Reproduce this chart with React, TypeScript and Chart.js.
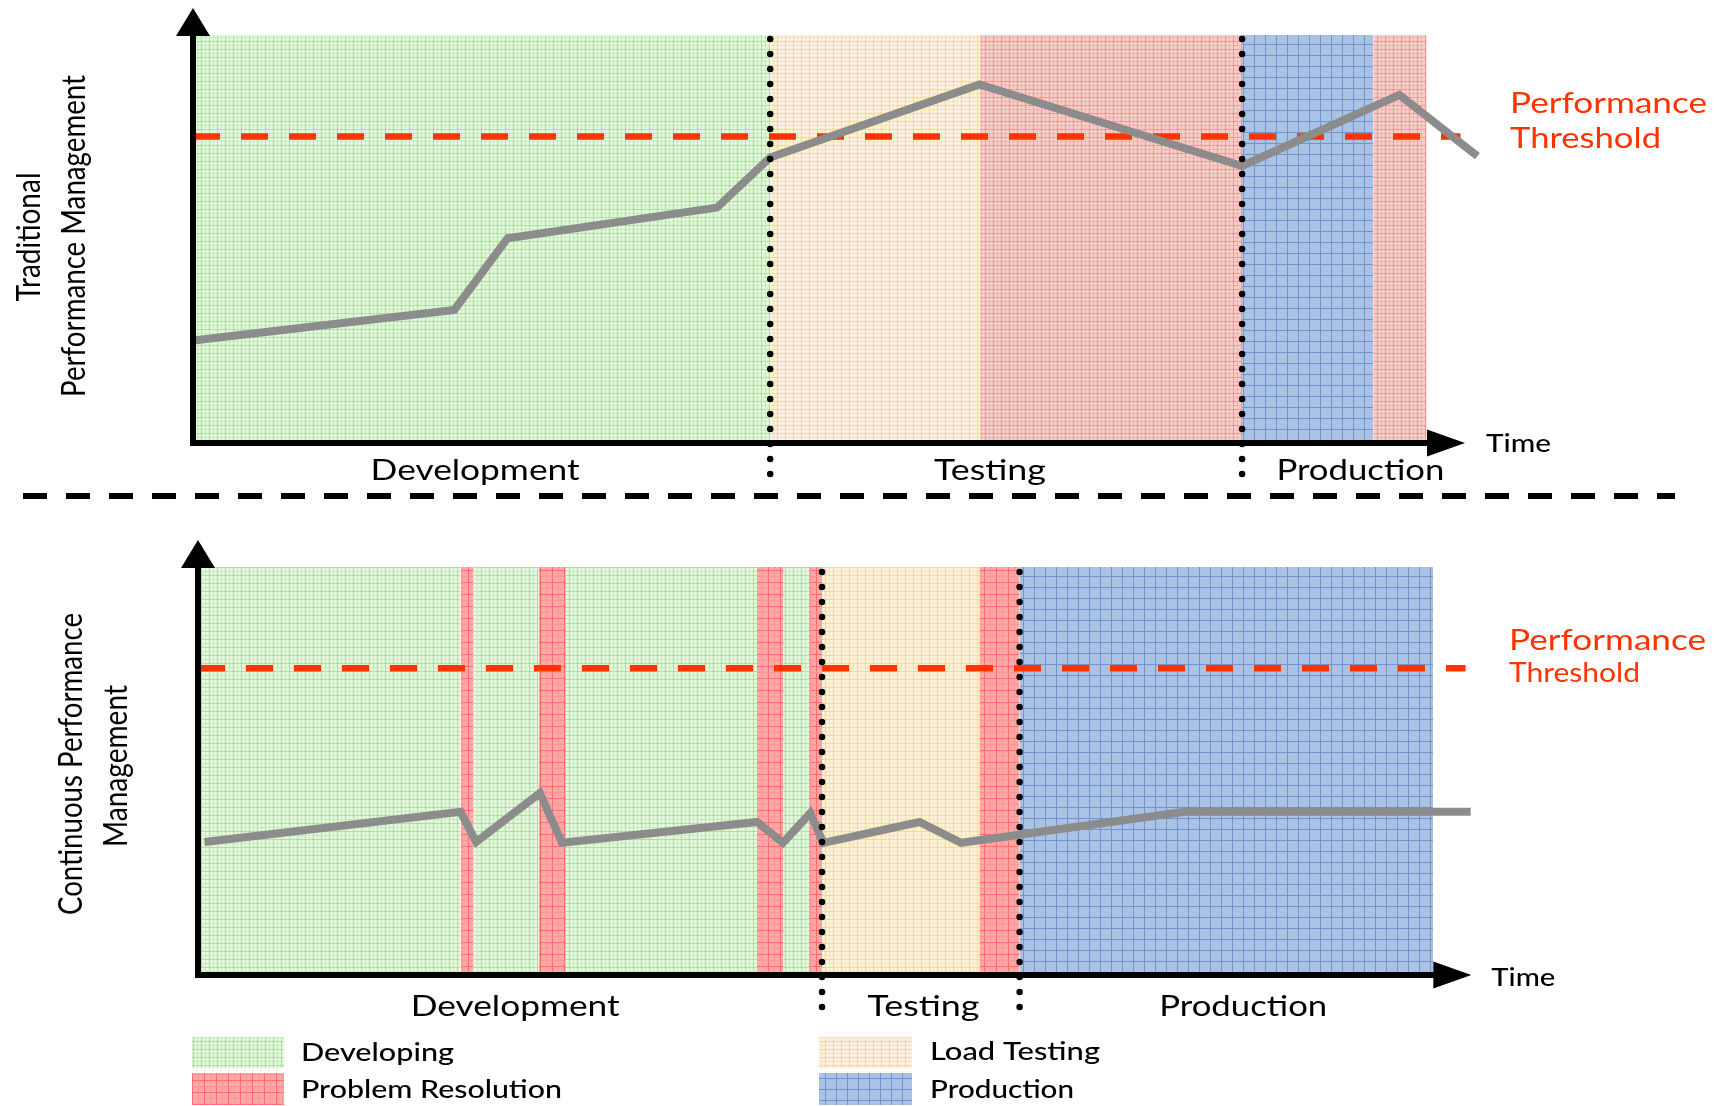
import React, { useEffect, useRef } from 'react';
import { Chart, registerables } from 'chart.js';

Chart.register(...registerables);

// ===================== DATA =====================
const legendLabels = ['Developing', 'Problem Resolution', 'Load Testing', 'Production'];

// Traditional performance management (top panel)
const topPhaseStart = [0, 44.4, 60.5, 80.7, 90.8];
const topPhaseEnd = [44.4, 60.5, 80.7, 90.8, 94.9];
const topPhaseKind = ['Developing', 'Load Testing', 'Problem Resolution', 'Production', 'Problem Resolution'];
const topPerfX = [0, 20.1, 24.2, 40.3, 44.4, 60.5, 80.7, 92.8, 98.8];
const topPerfY = [25.1, 32.6, 50.2, 57.7, 70.0, 87.9, 67.9, 85.3, 70.3];
const topThreshold = 75.1;
const topThresholdEnd = 97.5;
const topDividers = [44.4, 80.7];
const topStageLabels = ['Development', 'Testing', 'Production'];
const topStageAt = [21.7, 61.3, 89.8];
const topYTitle = ['Traditional', 'Performance Management'];

// Continuous performance management (bottom panel)
const botPhaseStart = [0, 20.2, 21.2, 26.2, 28.3, 43.0, 45.0, 47.0, 48.0, 60.1, 63.2];
const botPhaseEnd = [20.2, 21.2, 26.2, 28.3, 43.0, 45.0, 47.0, 48.0, 60.1, 63.2, 95.0];
const botPhaseKind = [
  'Developing', 'Problem Resolution', 'Developing', 'Problem Resolution', 'Developing',
  'Problem Resolution', 'Developing', 'Problem Resolution', 'Load Testing', 'Problem Resolution', 'Production',
];
const botPerfX = [0.5, 20.2, 21.4, 26.3, 28.0, 43.0, 45.0, 47.1, 48.1, 55.5, 58.7, 75.9, 97.9];
const botPerfY = [32.6, 40.0, 32.6, 44.6, 32.4, 37.5, 32.4, 39.7, 32.4, 37.5, 32.4, 40.0, 40.0];
const botThreshold = 75.2;
const botThresholdEnd = 97.5;
const botDividers = [48.0, 63.2];
const botStageLabels = ['Development', 'Testing', 'Production'];
const botStageAt = [24.4, 55.8, 80.4];
const botYTitle = ['Continuous Performance', 'Management'];

const axisTitle = 'Time';
const thresholdTitle = ['Performance', 'Threshold'];

// ===================== STYLE =====================
const FONT = 'Lato, "Noto Sans", "DejaVu Sans", sans-serif';
const GRAY = '#8C8C8C';
const ORANGE = '#FF3300';
const W = 1717;

const topStyle = {
  canvasTop: 0,
  canvasHeight: 510,
  padding: { left: 193, right: 224, top: 35, bottom: 67 },
  axisEnd: 95.0,
  dividerFrom: 99.0,
  dividerTo: -8.1,
  stageWidths: [209, 112, 168],
  stageDrop: 37,
  stageSize: 29,
  timeGap: 21,
  timeDrop: 9,
  timeWidth: 65,
  thrX: 1510,
  thrWidths: [197, 151],
  thrOffsets: [-24, 11],
  thrSizes: [28, 28],
  yTitles: [
    { x: 40, y: 237, len: 129 },
    { x: 85, y: 236, len: 322 },
  ],
  yTitleSize: 32,
  fineRed: true,
  separator: true,
  legend: false,
};

const botStyle = {
  canvasTop: 510,
  canvasHeight: 596,
  padding: { left: 198, right: 219, top: 57, bottom: 131 },
  axisEnd: 95.1,
  dividerFrom: 98.8,
  dividerTo: -7.9,
  stageWidths: [209, 112, 168],
  stageDrop: 41,
  stageSize: 29,
  timeGap: 20,
  timeDrop: 11,
  timeWidth: 64,
  thrX: 1509,
  thrWidths: [197, 131],
  thrOffsets: [-18, 14],
  thrSizes: [28, 26],
  yTitles: [
    { x: 82, y: 764, len: 302 },
    { x: 127, y: 766, len: 162 },
  ],
  yTitleSize: 32,
  fineRed: false,
  separator: false,
  legend: true,
};

const separatorStyle = { y: 496, from: 23, to: 1675, dash: [24, 19], width: 6 };

const legendStyle = {
  swatches: [
    { x: 192, y: 1037, w: 92, h: 31 },
    { x: 192, y: 1073, w: 92, h: 32 },
    { x: 819, y: 1037, w: 93, h: 31 },
    { x: 819, y: 1073, w: 93, h: 32 },
  ],
  textX: [301, 301, 930, 930],
  baselines: [1061, 1098, 1060, 1098],
  widths: [153, 261, 170, 144],
  size: 24,
};

// ===================== HELPERS =====================
function makeTile(size: number, bg: string, lines: [number, string][], checker?: string) {
  const c = document.createElement('canvas');
  c.width = size;
  c.height = size;
  const g = c.getContext('2d') as CanvasRenderingContext2D;
  g.fillStyle = bg;
  g.fillRect(0, 0, size, size);
  if (checker) {
    g.fillStyle = checker;
    for (let y = 0; y < size; y++) {
      for (let x = 0; x < size; x++) {
        if ((x + y) % 2 === 0) g.fillRect(x, y, 1, 1);
      }
    }
  }
  for (const [p, col] of lines) {
    g.fillStyle = col;
    g.fillRect(p, 0, 1, size);
    g.fillRect(0, p, size, 1);
  }
  return c;
}

function makePatterns(ctx: CanvasRenderingContext2D) {
  const pat = (c: HTMLCanvasElement) => ctx.createPattern(c, 'repeat') as CanvasPattern;
  return {
    dev: pat(makeTile(8, '#EEFAEA', [[1, '#A8DF99'], [5, '#C6ECBB']], '#E0F5DA')),
    load: pat(makeTile(8, '#FFF8E2', [[1, '#F4D98A'], [5, '#F8E6AE']], '#FCF0CF')),
    redFine: pat(makeTile(8, '#FFD6D6', [[1, '#FF8E8E'], [5, '#FFB0B0']], '#FFC4C4')),
    red: pat(makeTile(12, '#FFAEAE', [[0, '#FF6C6C'], [6, '#FF9494']], '#FFA0A0')),
    prod: pat(makeTile(11, '#B0C7E7', [[0, '#6E95CE']], '#A5BDE0')),
  };
}

function fitText(
  ctx: CanvasRenderingContext2D,
  text: string,
  x: number,
  y: number,
  width: number,
  size: number,
  opts: { align?: CanvasTextAlign; color?: string; weight?: string; rotate?: boolean } = {}
) {
  const { align = 'left', color = '#000', weight = '400', rotate = false } = opts;
  ctx.save();
  ctx.font = `${weight} ${size}px ${FONT}`;
  const w = ctx.measureText(text).width || 1;
  const s = width / w;
  ctx.translate(x, y);
  if (rotate) ctx.rotate(-Math.PI / 2);
  ctx.scale(s, 1);
  ctx.textAlign = align;
  ctx.textBaseline = 'alphabetic';
  ctx.fillStyle = color;
  ctx.fillText(text, 0, 0);
  ctx.restore();
}

function createPanel(canvas: HTMLCanvasElement, panel: any, style: any) {
  const ctx0 = canvas.getContext('2d') as CanvasRenderingContext2D;
  const pats = makePatterns(ctx0);
  const fillFor = (kind: string) => {
    if (kind === 'Developing') return pats.dev;
    if (kind === 'Load Testing') return pats.load;
    if (kind === 'Production') return pats.prod;
    return style.fineRed ? pats.redFine : pats.red;
  };

  const datasets: any[] = [];

  // dotted dividers (on top)
  panel.dividers.forEach((d: number) => {
    datasets.push({
      data: [
        { x: d, y: style.dividerFrom },
        { x: d, y: style.dividerTo },
      ],
      borderColor: '#000',
      borderWidth: 6.5,
      borderDash: [0, 15],
      borderCapStyle: 'round',
      pointRadius: 0,
      fill: false,
      clip: false,
      order: 1,
    });
  });

  // performance line
  datasets.push({
    data: panel.perfX.map((x: number, i: number) => ({ x, y: panel.perfY[i] })),
    borderColor: GRAY,
    borderWidth: 8,
    borderJoinStyle: 'miter',
    borderCapStyle: 'butt',
    tension: 0,
    pointRadius: 0,
    fill: false,
    clip: false,
    order: 2,
  });

  // threshold
  datasets.push({
    data: [
      { x: 0, y: panel.threshold },
      { x: panel.thresholdEnd, y: panel.threshold },
    ],
    borderColor: ORANGE,
    borderWidth: 6.5,
    borderDash: [27, 21],
    borderCapStyle: 'butt',
    pointRadius: 0,
    fill: false,
    clip: false,
    order: 3,
  });

  // phase regions
  panel.phaseStart.forEach((s: number, i: number) => {
    datasets.push({
      data: [
        { x: s, y: 100 },
        { x: panel.phaseEnd[i], y: 100 },
      ],
      borderColor: 'rgba(0,0,0,0)',
      borderWidth: 0,
      pointRadius: 0,
      backgroundColor: fillFor(panel.phaseKind[i]),
      fill: 'origin',
      order: 10,
    });
  });

  const decor = {
    id: 'panelDecor',
    afterDatasetsDraw(chart: any) {
      const ctx = chart.ctx as CanvasRenderingContext2D;
      const xs = chart.scales.x;
      const ys = chart.scales.y;
      const x0 = xs.getPixelForValue(0);
      const y0 = ys.getPixelForValue(0);
      const yTop = ys.getPixelForValue(100);
      const xEnd = xs.getPixelForValue(style.axisEnd);

      ctx.save();
      ctx.strokeStyle = '#000';
      ctx.fillStyle = '#000';
      ctx.lineWidth = 6;
      ctx.lineCap = 'butt';
      ctx.setLineDash([]);
      ctx.beginPath();
      ctx.moveTo(x0, y0 + 3);
      ctx.lineTo(x0, yTop + 1);
      ctx.moveTo(x0 - 3, y0);
      ctx.lineTo(xEnd, y0);
      ctx.stroke();
      ctx.beginPath();
      ctx.moveTo(x0 - 17, yTop + 1);
      ctx.lineTo(x0, yTop - 27);
      ctx.lineTo(x0 + 17, yTop + 1);
      ctx.closePath();
      ctx.fill();
      ctx.beginPath();
      ctx.moveTo(xEnd - 1, y0 - 13.5);
      ctx.lineTo(xEnd + 37, y0);
      ctx.lineTo(xEnd - 1, y0 + 13.5);
      ctx.closePath();
      ctx.fill();
      ctx.restore();

      fitText(ctx, axisTitle, xEnd + 37 + style.timeGap, y0 + style.timeDrop, style.timeWidth, 24, { weight: '500' });

      panel.stageLabels.forEach((t: string, i: number) => {
        fitText(ctx, t, xs.getPixelForValue(panel.stageAt[i]), y0 + style.stageDrop, style.stageWidths[i], style.stageSize, {
          align: 'center',
        });
      });

      const thrPx = ys.getPixelForValue(panel.threshold);
      thresholdTitle.forEach((t, i) => {
        fitText(ctx, t, style.thrX, thrPx + style.thrOffsets[i], style.thrWidths[i], style.thrSizes[i], {
          color: ORANGE,
        });
      });

      ctx.save();
      ctx.translate(0, -style.canvasTop);
      panel.yTitle.forEach((t: string, i: number) => {
        const yt = style.yTitles[i];
        fitText(ctx, t, yt.x, yt.y, yt.len, style.yTitleSize, { align: 'center', rotate: true });
      });

      if (style.separator) {
        ctx.save();
        ctx.strokeStyle = '#000';
        ctx.lineWidth = separatorStyle.width;
        ctx.setLineDash(separatorStyle.dash);
        ctx.beginPath();
        ctx.moveTo(separatorStyle.from, separatorStyle.y);
        ctx.lineTo(separatorStyle.to, separatorStyle.y);
        ctx.stroke();
        ctx.restore();
      }

      if (style.legend) {
        const legendFills = [pats.dev, pats.red, pats.load, pats.prod];
        legendLabels.forEach((t, i) => {
          const sw = legendStyle.swatches[i];
          ctx.fillStyle = legendFills[i];
          ctx.fillRect(sw.x, sw.y, sw.w, sw.h);
          fitText(ctx, t, legendStyle.textX[i], legendStyle.baselines[i], legendStyle.widths[i], legendStyle.size, {
            weight: '500',
          });
        });
      }
      ctx.restore();
    },
  };

  return new Chart(canvas, {
    type: 'line',
    data: { datasets },
    options: {
      responsive: false,
      animation: false,
      events: [],
      layout: { padding: style.padding, autoPadding: false },
      scales: {
        x: { type: 'linear', min: 0, max: 100, display: false },
        y: { type: 'linear', min: 0, max: 100, display: false },
      },
      plugins: {
        legend: { display: false },
        tooltip: { enabled: false },
        title: { display: false },
      },
    } as any,
    plugins: [decor],
  });
}

const topPanel = {
  phaseStart: topPhaseStart,
  phaseEnd: topPhaseEnd,
  phaseKind: topPhaseKind,
  perfX: topPerfX,
  perfY: topPerfY,
  threshold: topThreshold,
  thresholdEnd: topThresholdEnd,
  dividers: topDividers,
  stageLabels: topStageLabels,
  stageAt: topStageAt,
  yTitle: topYTitle,
};

const botPanel = {
  phaseStart: botPhaseStart,
  phaseEnd: botPhaseEnd,
  phaseKind: botPhaseKind,
  perfX: botPerfX,
  perfY: botPerfY,
  threshold: botThreshold,
  thresholdEnd: botThresholdEnd,
  dividers: botDividers,
  stageLabels: botStageLabels,
  stageAt: botStageAt,
  yTitle: botYTitle,
};

export default function App() {
  const topRef = useRef<HTMLCanvasElement>(null);
  const botRef = useRef<HTMLCanvasElement>(null);

  useEffect(() => {
    const charts: Chart[] = [];
    if (topRef.current) charts.push(createPanel(topRef.current, topPanel, topStyle));
    if (botRef.current) charts.push(createPanel(botRef.current, botPanel, botStyle));
    return () => charts.forEach((c) => c.destroy());
  }, []);

  return (
    <div style={{ position: 'absolute', left: 0, top: 0, width: W, height: 1106, background: '#fff' }}>
      <canvas
        ref={topRef}
        width={W}
        height={topStyle.canvasHeight}
        style={{ position: 'absolute', left: 0, top: topStyle.canvasTop }}
      />
      <canvas
        ref={botRef}
        width={W}
        height={botStyle.canvasHeight}
        style={{ position: 'absolute', left: 0, top: botStyle.canvasTop }}
      />
    </div>
  );
}
